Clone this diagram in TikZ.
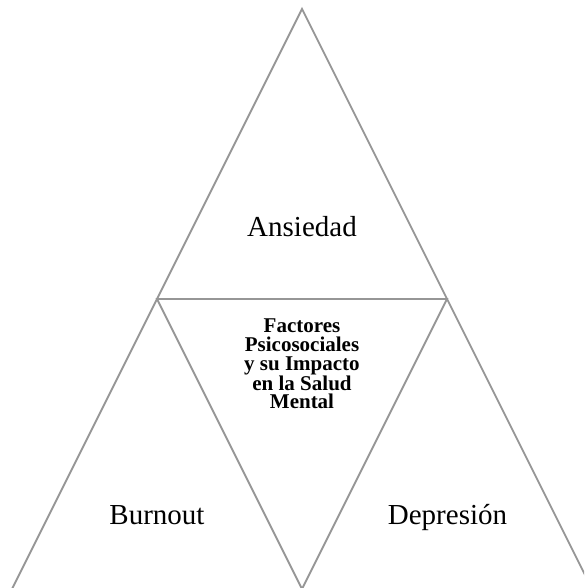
\documentclass[tikz,border=0pt]{standalone}
\usepackage{fontspec}
\setmainfont{Liberation Serif}

\definecolor{bordgris}{RGB}{150,150,150}

\tikzset{cote/.style = {draw = bordgris, line width = 1.8pt, line join = miter},
         etiq/.style = {font = \fontsize{29}{34}\selectfont, inner sep = 0pt},
         centre/.style = {font = \fontsize{21}{18.7}\selectfont\bfseries, align = center, inner sep = 0pt}
        }

\begin{document}
\begin{tikzpicture}[x=1pt, y=1pt]
\useasboundingbox (0,0) rectangle (584,588);
\clip (0,0) rectangle (584,588);
% sommets
\coordinate (som) at (302,579);
\coordinate (bg) at (12,-1);
\coordinate (bd) at (592,-1);
\coordinate (mg) at (157,289);
\coordinate (md) at (447,289);
\coordinate (bas) at (302,-1);
% textes
\node[etiq, anchor = base] at (302,351) (anx) {Ansiedad};
\node[etiq, anchor = base] at (157,63) (burn) {Burnout};
\node[etiq, anchor = base] at (447.5,63) (dep) {Depresión};
\node[centre] at (302,224) (fact) {Factores\\Psicosociales\\y su Impacto\\en la Salud\\Mental};
% triangles
\draw[cote] (bg) -- (som) -- (bd);
\draw[cote] (mg) -- (md) -- (bas) -- cycle;
\end{tikzpicture}
\end{document}
